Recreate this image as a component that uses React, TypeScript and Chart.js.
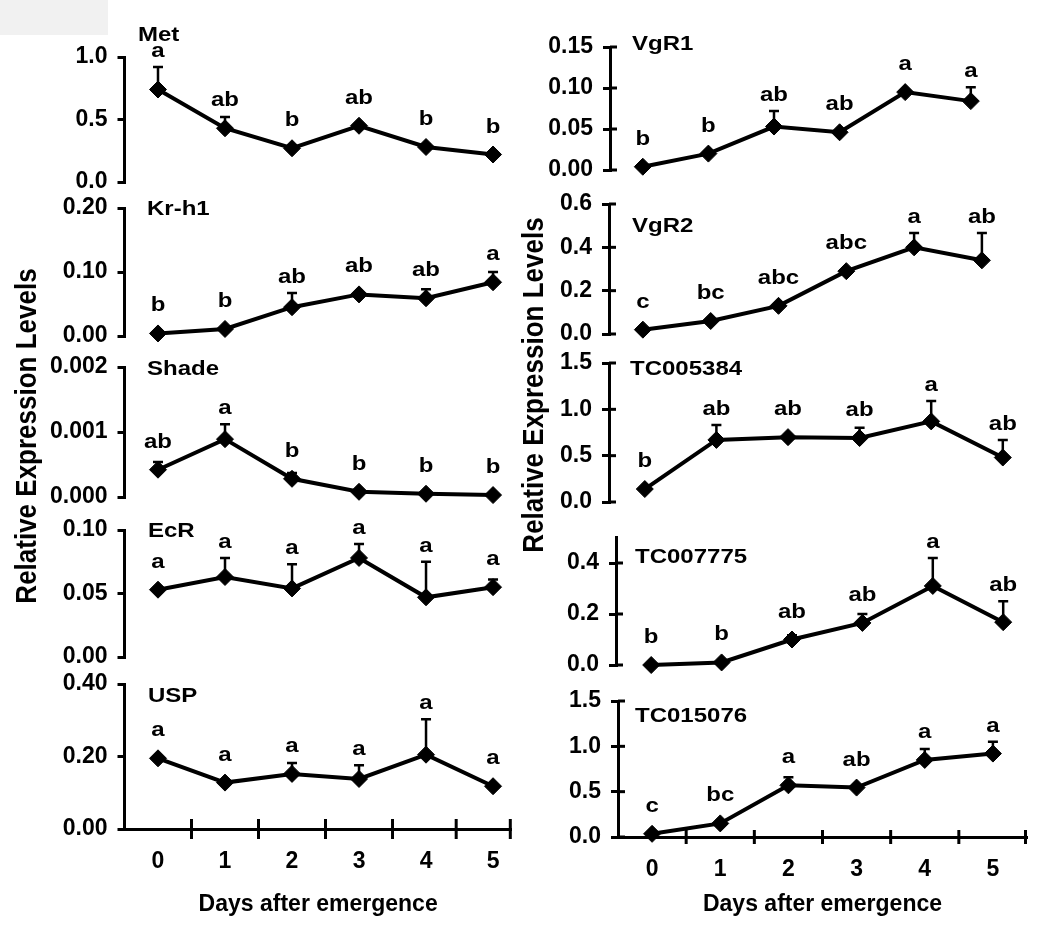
import React, { useEffect, useRef } from "react";
import { Chart, registerables } from "chart.js";

Chart.register(...registerables);
Chart.defaults.font.family = "'Liberation Sans', Arial, sans-serif";
Chart.defaults.color = "#000";

// ---------------- data ----------------
const days = [0, 1, 2, 3, 4, 5];
const dayLabels = ["0", "1", "2", "3", "4", "5"];
const xAxisTitle = "Days after emergence";
const yAxisTitle = "Relative Expression Levels";

const metValues = [0.74, 0.43, 0.27, 0.45, 0.28, 0.22];
const metErrors = [0.18, 0.09, 0.02, 0.01, 0.02, 0.02];
const metLetters = ["a", "ab", "b", "ab", "b", "b"];
const metTicks = [0, 0.5, 1.0];

const krh1Values = [0.004, 0.011, 0.045, 0.065, 0.059, 0.084];
const krh1Errors = [0.001, 0.002, 0.022, 0.003, 0.014, 0.016];
const krh1Letters = ["b", "b", "ab", "ab", "ab", "a"];
const krh1Ticks = [0, 0.1, 0.2];

const shadeValues = [0.00042, 0.00089, 0.00028, 0.00008, 0.00005, 0.00003];
const shadeErrors = [0.00012, 0.00023, 0.00009, 0.00002, 0, 0];
const shadeLetters = ["ab", "a", "b", "b", "b", "b"];
const shadeTicks = [0, 0.001, 0.002];

const ecrValues = [0.053, 0.063, 0.054, 0.078, 0.047, 0.055];
const ecrErrors = [0.002, 0.015, 0.019, 0.011, 0.028, 0.006];
const ecrLetters = ["a", "a", "a", "a", "a", "a"];
const ecrTicks = [0, 0.05, 0.1];

const uspValues = [0.195, 0.128, 0.152, 0.138, 0.205, 0.118];
const uspErrors = [0.005, 0.004, 0.03, 0.038, 0.098, 0.005];
const uspLetters = ["a", "a", "a", "a", "a", "a"];
const uspTicks = [0, 0.2, 0.4];

const vgr1Values = [0.004, 0.02, 0.053, 0.046, 0.095, 0.084];
const vgr1Errors = [0.001, 0.002, 0.019, 0.002, 0.002, 0.017];
const vgr1Letters = ["b", "b", "ab", "ab", "a", "a"];
const vgr1Ticks = [0, 0.05, 0.1, 0.15];

const vgr2Values = [0.02, 0.06, 0.13, 0.29, 0.4, 0.34];
const vgr2Errors = [0.005, 0.005, 0.007, 0.01, 0.066, 0.126];
const vgr2Letters = ["c", "bc", "abc", "abc", "a", "ab"];
const vgr2Ticks = [0, 0.2, 0.4, 0.6];

const tc005384Values = [0.14, 0.67, 0.7, 0.69, 0.87, 0.48];
const tc005384Errors = [0.01, 0.16, 0.02, 0.11, 0.22, 0.19];
const tc005384Letters = ["b", "ab", "ab", "ab", "a", "ab"];
const tc005384Ticks = [0, 0.5, 1.0, 1.5];

const tc007775Values = [0.0, 0.01, 0.1, 0.165, 0.31, 0.168];
const tc007775Errors = [0, 0.002, 0.017, 0.035, 0.11, 0.082];
const tc007775Letters = ["b", "b", "ab", "ab", "a", "ab"];
const tc007775Ticks = [0, 0.2, 0.4];

const tc015076Values = [0.035, 0.15, 0.57, 0.545, 0.85, 0.92];
const tc015076Errors = [0.01, 0.02, 0.09, 0.015, 0.12, 0.13];
const tc015076Letters = ["c", "bc", "a", "ab", "a", "a"];
const tc015076Ticks = [0, 0.5, 1.0, 1.5];

const leftXMarks = [0.5, 1.5, 2.5, 3.5, 4.45, 5.28];
const rightXMarks = [0.5, 1.5, 2.5, 3.5, 4.5, 5.5];

// ---------------- layout (page coordinates) ----------------
const W = 1050;
const H = 930;
const Y_AXIS_W = 100;
const X_AXIS_BOTTOM = 918;
const FONT_TICK = { size: 23, weight: "bold" as const };
const TEXT_STRETCH = 1.2;
const FONT_FAMILY = "'Liberation Sans', Arial, sans-serif";

type Spec = {
  name: string;
  values: number[];
  errors: number[];
  letters: string[];
  ticks: number[];
  dec: number;
  yMax: number;
  left: number;
  right: number;
  top: number;
  bottom: number;
  xMax: number;
  titleX: number;
  titleY: number;
  col: number;
  isBottom: boolean;
  xMarks?: number[];
  markHalf?: number;
  yTitle?: { x: number; y: number };
};

const panels: Spec[] = [
  { name: "Met", values: metValues, errors: metErrors, letters: metLetters, ticks: metTicks, dec: 1, yMax: 1.0,
    left: 124.5, right: 511.8, top: 57, bottom: 182, xMax: 5.28, titleX: 138, titleY: 41, col: 0, isBottom: false },
  { name: "Kr-h1", values: krh1Values, errors: krh1Errors, letters: krh1Letters, ticks: krh1Ticks, dec: 2, yMax: 0.2,
    left: 124.5, right: 511.8, top: 208, bottom: 336, xMax: 5.28, titleX: 147, titleY: 215, col: 0, isBottom: false },
  { name: "Shade", values: shadeValues, errors: shadeErrors, letters: shadeLetters, ticks: shadeTicks, dec: 3, yMax: 0.002,
    left: 124.5, right: 511.8, top: 367, bottom: 497, xMax: 5.28, titleX: 147, titleY: 375, col: 0, isBottom: false,
    yTitle: { x: 28, y: 436 } },
  { name: "EcR", values: ecrValues, errors: ecrErrors, letters: ecrLetters, ticks: ecrTicks, dec: 2, yMax: 0.1,
    left: 124.5, right: 511.8, top: 530, bottom: 657, xMax: 5.28, titleX: 148, titleY: 537, col: 0, isBottom: false },
  { name: "USP", values: uspValues, errors: uspErrors, letters: uspLetters, ticks: uspTicks, dec: 2, yMax: 0.4,
    left: 124.5, right: 511.8, top: 684, bottom: 829, xMax: 5.28, titleX: 148, titleY: 702, col: 0, isBottom: true,
    xMarks: leftXMarks, markHalf: 10 },
  { name: "VgR1", values: vgr1Values, errors: vgr1Errors, letters: vgr1Letters, ticks: vgr1Ticks, dec: 2, yMax: 0.15,
    left: 610, right: 1003.6, top: 47, bottom: 170, xMax: 5.5, titleX: 632, titleY: 50, col: 1, isBottom: false },
  { name: "VgR2", values: vgr2Values, errors: vgr2Errors, letters: vgr2Letters, ticks: vgr2Ticks, dec: 1, yMax: 0.6,
    left: 609, right: 1015.8, top: 204, bottom: 334, xMax: 5.5, titleX: 632, titleY: 232, col: 1, isBottom: false },
  { name: "TC005384", values: tc005384Values, errors: tc005384Errors, letters: tc005384Letters, ticks: tc005384Ticks, dec: 1, yMax: 1.5,
    left: 609, right: 1038.6, top: 363, bottom: 502, xMax: 5.5, titleX: 630, titleY: 375, col: 1, isBottom: false,
    yTitle: { x: 535, y: 385 } },
  { name: "TC007775", values: tc007775Values, errors: tc007775Errors, letters: tc007775Letters, ticks: tc007775Ticks, dec: 1, yMax: 0.5,
    left: 616, right: 1038.4, top: 537.5, bottom: 665, xMax: 5.5, titleX: 635, titleY: 563, col: 1, isBottom: false },
  { name: "TC015076", values: tc015076Values, errors: tc015076Errors, letters: tc015076Letters, ticks: tc015076Ticks, dec: 1, yMax: 1.5,
    left: 618, right: 1027, top: 701, bottom: 837, xMax: 5.5, titleX: 635, titleY: 722, col: 1, isBottom: true,
    xMarks: rightXMarks, markHalf: 7 },
];

function stretchedText(ctx: CanvasRenderingContext2D, text: string, x: number, y: number) {
  ctx.save();
  ctx.translate(x, y);
  ctx.scale(TEXT_STRETCH, 1);
  ctx.fillText(text, 0, 0);
  ctx.restore();
}

function makeDecorPlugin(spec: Spec) {
  return {
    id: "panelDecor",
    beforeDatasetsDraw(chart: any) {
      const ctx = chart.ctx;
      const xs = chart.scales.x;
      const ys = chart.scales.y;
      ctx.save();
      ctx.strokeStyle = "#000";
      ctx.lineWidth = 2.5;
      spec.values.forEach((v, i) => {
        const e = spec.errors[i];
        if (!e) return;
        const px = xs.getPixelForValue(days[i]);
        const y1 = ys.getPixelForValue(v);
        const y2 = ys.getPixelForValue(v + e);
        ctx.beginPath();
        ctx.moveTo(px, y1);
        ctx.lineTo(px, y2);
        ctx.moveTo(px - 5, y2);
        ctx.lineTo(px + 5, y2);
        ctx.stroke();
      });
      ctx.restore();
    },
    afterDatasetsDraw(chart: any) {
      const ctx = chart.ctx;
      const xs = chart.scales.x;
      const ys = chart.scales.y;
      const area = chart.chartArea;
      ctx.save();
      ctx.fillStyle = "#000";
      ctx.strokeStyle = "#000";
      // significance letters
      ctx.font = `bold 20px ${FONT_FAMILY}`;
      ctx.textAlign = "center";
      ctx.textBaseline = "alphabetic";
      spec.values.forEach((v, i) => {
        const px = xs.getPixelForValue(days[i]);
        const top = ys.getPixelForValue(v + (spec.errors[i] || 0));
        const base = Math.min(ys.getPixelForValue(v) - 22, top - 10);
        stretchedText(ctx, spec.letters[i], px, base);
      });
      // panel title
      ctx.textAlign = "left";
      stretchedText(ctx, spec.name, spec.titleX, spec.titleY);
      // inner part of y ticks for right column
      ctx.lineWidth = 3;
      if (spec.col === 1) {
        ys.ticks.forEach((t: any) => {
          const py = ys.getPixelForValue(t.value);
          ctx.beginPath();
          ctx.moveTo(area.left, py);
          ctx.lineTo(area.left + 7, py);
          ctx.stroke();
        });
      }
      // x tick marks between days
      if (spec.isBottom && spec.xMarks) {
        const h = spec.markHalf || 8;
        spec.xMarks.forEach((m) => {
          const px = Math.min(xs.getPixelForValue(m), area.right - 1.5);
          ctx.beginPath();
          ctx.moveTo(px, area.bottom - h);
          ctx.lineTo(px, area.bottom + h);
          ctx.stroke();
        });
      }
      // shared y-axis title
      if (spec.yTitle) {
        ctx.translate(spec.yTitle.x, spec.yTitle.y);
        ctx.rotate(-Math.PI / 2);
        ctx.font = `bold 26px ${FONT_FAMILY}`;
        ctx.textAlign = "center";
        ctx.textBaseline = "middle";
        ctx.scale(1, 1.12);
        ctx.fillText(yAxisTitle, 0, 0);
      }
      ctx.restore();
    },
  };
}

function makeConfig(spec: Spec): any {
  const xh = X_AXIS_BOTTOM - spec.bottom;
  return {
    type: "line",
    data: {
      datasets: [
        {
          data: days.map((d, i) => ({ x: d, y: spec.values[i] })),
          borderColor: "#000",
          borderWidth: 4,
          pointStyle: "rectRot",
          pointRadius: 8.5,
          pointBackgroundColor: "#000",
          pointBorderColor: "#000",
          pointBorderWidth: 1,
          tension: 0,
          clip: false,
        },
      ],
    },
    options: {
      responsive: false,
      animation: false,
      events: [],
      layout: {
        padding: {
          left: spec.left - Y_AXIS_W,
          right: W - spec.right,
          top: spec.top,
          bottom: spec.isBottom ? H - X_AXIS_BOTTOM : H - spec.bottom,
        },
      },
      plugins: { legend: { display: false }, tooltip: { enabled: false } },
      scales: {
        x: {
          type: "linear",
          min: -0.5,
          max: spec.xMax,
          display: spec.isBottom,
          afterBuildTicks: (s: any) => {
            s.ticks = days.map((v) => ({ value: v }));
          },
          afterFit: (s: any) => {
            if (spec.isBottom) s.height = xh;
          },
          grid: { display: false, drawTicks: false },
          border: { display: true, width: 3, color: "#000" },
          ticks: {
            color: "#000",
            font: FONT_TICK,
            padding: 19,
            maxRotation: 0,
            autoSkip: false,
            callback: (_v: any, i: number) => dayLabels[i],
          },
          title: {
            display: true,
            text: xAxisTitle,
            color: "#000",
            font: { size: 23, weight: "bold" },
            padding: { top: 0, bottom: 0 },
          },
        },
        y: {
          type: "linear",
          min: 0,
          max: spec.yMax,
          afterBuildTicks: (s: any) => {
            s.ticks = spec.ticks.map((v) => ({ value: v }));
          },
          afterFit: (s: any) => {
            s.width = Y_AXIS_W;
          },
          grid: {
            display: true,
            drawOnChartArea: false,
            drawTicks: true,
            tickLength: 7,
            lineWidth: 3,
            color: "#000",
          },
          border: { display: true, width: 3, color: "#000" },
          ticks: {
            color: "#000",
            font: FONT_TICK,
            padding: 10,
            callback: (v: any) => Number(v).toFixed(spec.dec),
          },
        },
      },
    },
    plugins: [makeDecorPlugin(spec)],
  };
}

function Panel({ spec }: { spec: Spec }) {
  const ref = useRef<HTMLCanvasElement | null>(null);
  useEffect(() => {
    if (!ref.current) return;
    const chart = new Chart(ref.current, makeConfig(spec));
    return () => chart.destroy();
  }, [spec]);
  return (
    <canvas
      ref={ref}
      width={W}
      height={H}
      style={{ position: "absolute", left: 0, top: 0, width: W, height: H, pointerEvents: "none" }}
    />
  );
}

export default function App() {
  return (
    <div style={{ position: "absolute", left: 0, top: 0, width: W, height: H, background: "#fff", overflow: "hidden" }}>
      <div style={{ position: "absolute", left: 0, top: 0, width: 108, height: 35, background: "#f1f1f1" }} />
      {panels.map((p) => (
        <Panel key={p.name} spec={p} />
      ))}
    </div>
  );
}
